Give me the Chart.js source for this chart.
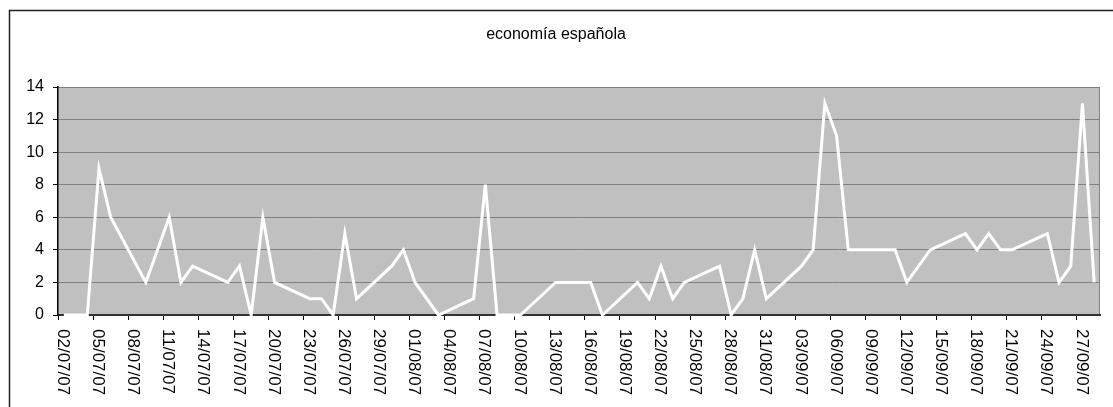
<!DOCTYPE html>
<html>
<head>
<meta charset="utf-8">
<script src="https://cdn.jsdelivr.net/npm/chart.js"></script>
<style>
  body { margin: 0; background: #fff; }
  canvas { display: block; }
</style>
</head>
<body>
<canvas id="chart" width="1113" height="407"></canvas>
<script>
// fechas (solo días con dato) y valores
const dates = [
  '02/07/07', '03/07/07', '04/07/07', '05/07/07', '06/07/07', '09/07/07', '11/07/07', '12/07/07', '13/07/07',
  '16/07/07', '17/07/07', '18/07/07', '19/07/07', '20/07/07', '23/07/07', '24/07/07', '25/07/07', '26/07/07',
  '27/07/07', '30/07/07', '31/07/07', '01/08/07', '03/08/07', '06/08/07', '07/08/07', '08/08/07', '09/08/07',
  '10/08/07', '13/08/07', '14/08/07', '15/08/07', '16/08/07', '17/08/07', '20/08/07', '21/08/07', '22/08/07',
  '23/08/07', '24/08/07', '27/08/07', '28/08/07', '29/08/07', '30/08/07', '31/08/07', '03/09/07', '04/09/07',
  '05/09/07', '06/09/07', '07/09/07', '10/09/07', '11/09/07', '12/09/07', '13/09/07', '14/09/07', '17/09/07',
  '18/09/07', '19/09/07', '20/09/07', '21/09/07', '24/09/07', '25/09/07', '26/09/07', '27/09/07', '28/09/07'
];
const values = [
  0, 0, 0, 9, 6, 2, 6, 2, 3,
  2, 3, 0, 6, 2, 1, 1, 0, 5,
  1, 3, 4, 2, 0, 1, 8, 0, 0,
  0, 2, 2, 2, 2, 0, 2, 1, 3,
  1, 2, 3, 0, 1, 4, 1, 3, 4,
  13, 11, 4, 4, 4, 2, 3, 4, 5,
  4, 5, 4, 4, 5, 2, 3, 13, 2
];
// etiquetas del eje X (cada 3 días)
const tickLabels = [
  '02/07/07', '05/07/07', '08/07/07', '11/07/07', '14/07/07', '17/07/07', '20/07/07', '23/07/07',
  '26/07/07', '29/07/07', '01/08/07', '04/08/07', '07/08/07', '10/08/07', '13/08/07', '16/08/07',
  '19/08/07', '22/08/07', '25/08/07', '28/08/07', '31/08/07', '03/09/07', '06/09/07', '09/09/07',
  '12/09/07', '15/09/07', '18/09/07', '21/09/07', '24/09/07', '27/09/07'
];
const yTicks = [0, 2, 4, 6, 8, 10, 12, 14];
const title = 'economía española';

const FONT = '"Liberation Sans", Arial, sans-serif';
const START = Date.UTC(2007, 6, 2);
const DAYS = 89;

// día desde el 02/07/07
function dayIndex(str) {
  const [d, m, y] = str.split('/').map(Number);
  return Math.round((Date.UTC(2000 + y, m - 1, d) - START) / 86400000);
}

// fondo, marco, título y etiquetas giradas
const decor = {
  id: 'decor',
  beforeDraw(chart) {
    const { ctx, chartArea: a } = chart;
    ctx.save();
    ctx.fillStyle = '#fff';
    ctx.fillRect(0, 0, chart.width, chart.height);
    ctx.strokeStyle = '#222';
    ctx.lineWidth = 1.5;
    ctx.strokeRect(9.5, 10.5, 1200, 500);
    ctx.fillStyle = '#c0c0c0';
    ctx.fillRect(a.left, a.top, a.right - a.left, a.bottom - a.top);
    ctx.strokeStyle = '#808080';
    ctx.lineWidth = 1;
    ctx.beginPath();
    ctx.moveTo(a.left, a.top + 0.5);
    ctx.lineTo(a.right - 0.5, a.top + 0.5);
    ctx.lineTo(a.right - 0.5, a.bottom);
    ctx.stroke();
    ctx.restore();
  },
  afterDraw(chart) {
    const { ctx } = chart;
    const xs = chart.scales.x;
    ctx.save();
    ctx.fillStyle = '#000';
    ctx.font = '16px ' + FONT;
    ctx.textAlign = 'center';
    ctx.textBaseline = 'middle';
    ctx.fillText(title, 556, 35);

    ctx.font = '17px ' + FONT;
    ctx.textAlign = 'left';
    ctx.textBaseline = 'alphabetic';
    xs.ticks.forEach((t, i) => {
      const px = xs.getPixelForValue(t.value);
      ctx.save();
      ctx.translate(px, xs.top + 14);
      ctx.rotate(Math.PI / 2);
      ctx.fillText(tickLabels[i], 0, 0);
      ctx.restore();
    });
    ctx.restore();
  }
};

new Chart(document.getElementById('chart'), {
  type: 'line',
  data: {
    datasets: [{
      data: dates.map((d, i) => ({ x: dayIndex(d), y: values[i] })),
      borderColor: '#ffffff',
      borderWidth: 3,
      pointRadius: 0,
      tension: 0,
      fill: false,
      clip: false
    }]
  },
  options: {
    responsive: false,
    animation: false,
    layout: { padding: { left: 0, right: 13, top: 87, bottom: 0 } },
    plugins: {
      legend: { display: false },
      tooltip: { enabled: false },
      title: { display: false }
    },
    scales: {
      x: {
        type: 'linear',
        min: -0.5,
        max: DAYS - 0.5,
        afterBuildTicks: s => {
          s.ticks = tickLabels.map(l => ({ value: dayIndex(l) - 0.5 }));
        },
        afterFit: s => { s.height = 92; },
        ticks: { display: false },
        grid: { drawOnChartArea: false, drawTicks: true, tickLength: 5, tickColor: '#000', tickWidth: 1 },
        border: { color: '#333', width: 2 }
      },
      y: {
        min: 0,
        max: 14,
        afterBuildTicks: s => {
          s.ticks = yTicks.map(v => ({ value: v }));
        },
        afterFit: s => { s.width = 58; },
        ticks: { color: '#000', padding: 9, font: { family: FONT, size: 16 } },
        grid: { color: '#808080', lineWidth: 1, tickLength: 5, tickColor: '#000' },
        border: { color: '#000', width: 1.5 }
      }
    }
  },
  plugins: [decor]
});
</script>
</body>
</html>
